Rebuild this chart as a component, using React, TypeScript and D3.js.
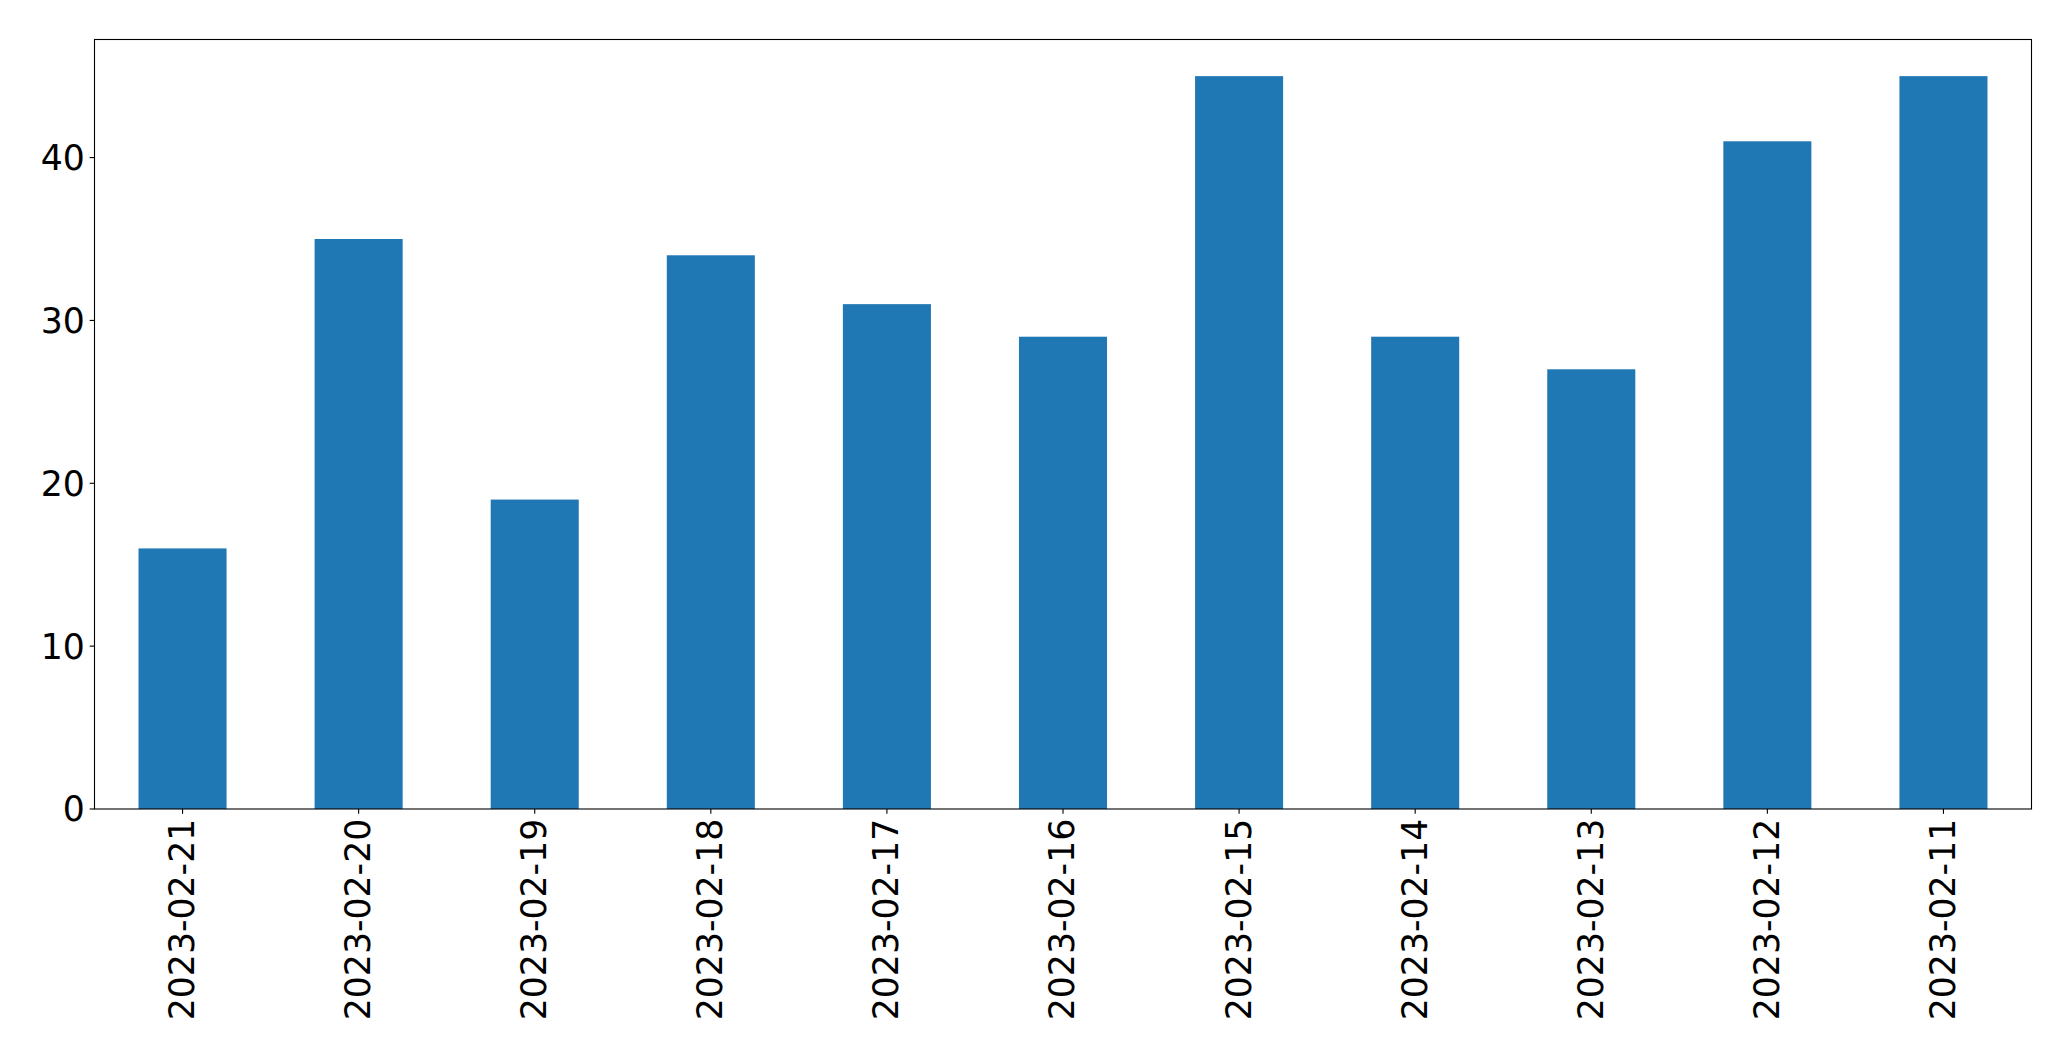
import React, { useEffect, useRef } from "react";
import * as d3 from "d3";

const categories: string[] = [
  "2023-02-21", "2023-02-20", "2023-02-19", "2023-02-18", "2023-02-17", "2023-02-16",
  "2023-02-15", "2023-02-14", "2023-02-13", "2023-02-12", "2023-02-11",
];
const values: number[] = [16, 35, 19, 34, 31, 29, 45, 29, 27, 41, 45];
const yTicks: number[] = [0, 10, 20, 30, 40];

const W = 2071;
const H = 1061;
const M = { left: 94.5, right: 2031.5, top: 39.5, bottom: 809 };
const FONT = "'DejaVu Sans', sans-serif";
const FS = 34.7;
const TICK = 4.86;
const PAD = 4.86;

export default function App() {
  const ref = useRef<SVGSVGElement | null>(null);
  useEffect(() => {
    const svg = d3.select(ref.current);
    svg.selectAll("*").remove();
    const n = categories.length;
    const x = d3.scaleLinear().domain([-0.5, n - 0.5]).range([M.left, M.right]);
    const yMax = d3.max(values)! * 1.05;
    const y = d3.scaleLinear().domain([0, yMax]).range([M.bottom, M.top]);

    svg.append("rect").attr("x", 0).attr("y", 0).attr("width", W).attr("height", H).attr("fill", "white");

    svg.selectAll("rect.bar")
      .data(values)
      .enter()
      .append("rect")
      .attr("class", "bar")
      .attr("x", (_d, i) => x(i - 0.25))
      .attr("width", (_d, i) => x(i + 0.25) - x(i - 0.25))
      .attr("y", (d) => y(d))
      .attr("height", (d) => y(0) - y(d))
      .attr("fill", "#1f77b4");

    svg.append("rect")
      .attr("x", M.left).attr("y", M.top)
      .attr("width", M.right - M.left).attr("height", M.bottom - M.top)
      .attr("fill", "none").attr("stroke", "black").attr("stroke-width", 1.1);

    // y ticks
    const yg = svg.append("g");
    yTicks.forEach((t) => {
      yg.append("line")
        .attr("x1", M.left - TICK).attr("x2", M.left)
        .attr("y1", y(t)).attr("y2", y(t))
        .attr("stroke", "black").attr("stroke-width", 1.1);
      yg.append("text")
        .attr("x", M.left - TICK - PAD)
        .attr("y", y(t))
        .attr("dy", "0.36em")
        .attr("text-anchor", "end")
        .attr("font-family", FONT)
        .attr("font-size", FS)
        .attr("fill", "black")
        .text(String(t));
    });

    // x ticks
    const xg = svg.append("g");
    categories.forEach((c, i) => {
      const cx = x(i);
      xg.append("line")
        .attr("x1", cx).attr("x2", cx)
        .attr("y1", M.bottom).attr("y2", M.bottom + TICK)
        .attr("stroke", "black").attr("stroke-width", 1.1);
      xg.append("text")
        .attr("transform", `translate(${cx},${M.bottom + TICK + PAD}) rotate(-90)`)
        .attr("dy", "0.33em")
        .attr("text-anchor", "end")
        .attr("font-family", FONT)
        .attr("font-size", FS)
        .attr("fill", "black")
        .text(c);
    });
  }, []);

  return (
    <div style={{ position: "absolute", left: 0, top: 0 }}>
      <svg ref={ref} width={W} height={H} style={{ display: "block" }} />
    </div>
  );
}
